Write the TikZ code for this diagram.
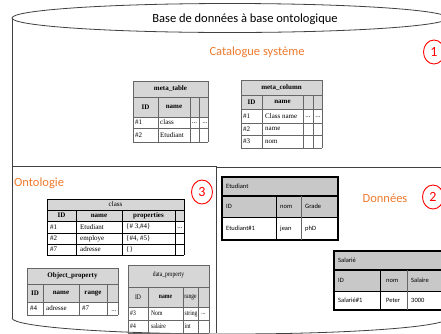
\documentclass[tikz,border=0pt]{standalone}
\usepackage{fontspec}
\usetikzlibrary{shapes.geometric}
\setmainfont{Liberation Serif}
\newfontfamily\calfont{Carlito}
\newfontfamily\condfont[FakeStretch=0.8]{Liberation Serif}
\definecolor{orng}{HTML}{F07B2E}
\definecolor{hg}{HTML}{D6D6D6}
\definecolor{hgb}{HTML}{C8C8C8}
\begin{document}
\begin{tikzpicture}[x=1pt,y=-1pt,
  tl/.style={draw=black!60, line width=0.5pt},
  tk/.style={draw=black, line width=0.6pt},
  tc/.style={font=\fontsize{7}{8}\selectfont, inner sep=0pt},
  tcb/.style={font=\fontsize{7}{8}\selectfont\bfseries, inner sep=0pt},
  tw/.style={tc, anchor=west},
  cc/.style={font=\condfont\fontsize{7}{8}\selectfont, inner sep=0pt},
  cw/.style={cc, anchor=west},
  dc/.style={font=\calfont\fontsize{6.5}{7.5}\selectfont, inner sep=0pt, anchor=west},
  ttl/.style={font=\calfont\fontsize{12.5}{14}\selectfont, text=orng, inner sep=0pt},
  num/.style={draw=red, line width=0.9pt, ellipse, minimum width=21pt, minimum height=24pt, inner sep=0pt, text=red, font=\calfont\fontsize{14}{16}\selectfont},
  cyl/.style={draw=black!75, line width=0.8pt}]
\useasboundingbox (0,0) rectangle (441,333);
\fill[white] (0,0) rectangle (441,333);

% cylinder
\draw[cyl] (12,18) -- (12,318);
\begin{scope}
  \clip (0,318) rectangle (470,345);
  \draw[cyl] (230,318) ellipse[x radius=218, y radius=16];
\end{scope}
\draw[cyl, fill=white] (230,18) ellipse[x radius=218, y radius=14.5];
\node[font=\calfont\fontsize{12.5}{14}\selectfont, inner sep=0pt] (title) at (245,19) {Base de données à base ontologique};

% dividers
\draw[cyl] (12,166) -- (216,166);
\draw[cyl] (216,167) -- (441,167);
\draw[cyl] (216,166) -- (216,333);

% section titles
\node[ttl] (cat) at (257,52) {Catalogue système};
\node[ttl, anchor=west] (onto) at (14,183) {Ontologie};
\node[ttl] (don) at (385,198) {Données};
\node[num] (n1) at (434,52) {1};
\node[num] (n3) at (202,192) {3};
\node[num] (n2) at (433,197) {2};

% meta_table
\fill[hg] (133,81) rectangle (208,117);
\foreach \y in {81,97,117,128,142} \draw[tl] (133,\y) -- (208,\y);
\draw[tl] (133,81) -- (133,142);
\draw[tl] (208,81) -- (208,142);
\foreach \x in {158,190,199} \draw[tl] (\x,97) -- (\x,142);
\node[tcb] (mt) at (170.5,89) {meta\_table};
\node[tcb] (mt1) at (145.5,107) {ID};
\node[tcb] (mt2) at (174,107) {name};
\node[tw] (mt3) at (135,122.5) {\#1};
\node[tw] (mt4) at (160,122.5) {class};
\node[tc] (mt5) at (194.5,123) {...};
\node[tc] (mt6) at (205,123) {...};
\node[tw] (mt7) at (135,135) {\#2};
\node[tw] (mt8) at (160,135) {Etudiant};

% meta_column
\fill[hg] (241,80) rectangle (322,109);
\foreach \y in {80,95,109,123,135,148} \draw[tl] (241,\y) -- (322,\y);
\draw[tl] (241,80) -- (241,148);
\draw[tl] (322,80) -- (322,148);
\foreach \x in {262,303,313} \draw[tl] (\x,95) -- (\x,148);
\node[tcb] (mc) at (281.5,87.5) {meta\_column};
\node[tcb] (mc1) at (251.5,102) {ID};
\node[tcb] (mc2) at (282.5,102) {name};
\node[tw] (mc3) at (243,116) {\#1};
\node[tw] (mc4) at (265,116) {Class name};
\node[tc] (mc5) at (308,117) {...};
\node[tc] (mc6) at (318,117) {...};
\node[tw] (mc7) at (243,129) {\#2};
\node[tw] (mc8) at (265,129) {name};
\node[tw] (mc9) at (243,141.5) {\#3};
\node[tw] (mc10) at (265,141.5) {nom};

% class
\fill[hg] (47,199) rectangle (184,221);
\foreach \y in {199,210,221,233,244,255} \draw[tk] (47,\y) -- (184,\y);
\draw[tk] (47,199) -- (47,255);
\draw[tk] (184,199) -- (184,255);
\foreach \x in {76,122,175} \draw[tk] (\x,210) -- (\x,255);
\node[tc] (cl) at (115.5,204.5) {class};
\node[tcb] (cl1) at (61.5,215.5) {ID};
\node[tcb] (cl2) at (99,215.5) {name};
\node[tcb] (cl3) at (148.5,215.5) {properties};
\node[tw] (cl4) at (50,227) {\#1};
\node[tw] (cl5) at (80,227) {Etudiant};
\node[tw] (cl6) at (126,227) {\{\# 3,\#4\}};
\node[tc] (cl7) at (180,228) {...};
\node[tw] (cl8) at (50,238.5) {\#2};
\node[tw] (cl9) at (80,238.5) {employe};
\node[tw] (cl10) at (126,238.5) {\{\#4, \#5\}};
\node[tw] (cl11) at (50,249.5) {\#7};
\node[tw] (cl12) at (80,249.5) {adresse};
\node[tw] (cl13) at (126,249.5) {\{\}};

% Object_property
\fill[hg] (27,268) rectangle (118,302);
\foreach \y in {268,284,302,315} \draw[tl] (27,\y) -- (118,\y);
\draw[tl] (27,268) -- (27,315);
\draw[tl] (118,268) -- (118,315);
\foreach \x in {43,79,107} \draw[tl] (\x,284) -- (\x,315);
\node[tcb] (op) at (72.5,276) {Object\_property};
\node[tcb] (op1) at (35,293) {ID};
\node[tcb] (op2) at (61,293) {name};
\node[tcb] (op3) at (93,293) {range};
\node[tw] (op4) at (30,308.5) {\#4};
\node[tw] (op5) at (46,308.5) {adresse};
\node[tw] (op6) at (82,308.5) {\#7};
\node[tc] (op7) at (114,311) {...};

% data_property
\fill[hg] (128,265) rectangle (209,307);
\foreach \y in {265,287,307,320,333} \draw[tl] (128,\y) -- (209,\y);
\draw[tl] (128,265) -- (128,333);
\draw[tl] (209,265) -- (209,333);
\foreach \x in {148,183,198} \draw[tl] (\x,287) -- (\x,333);
\node[cc] (dp) at (168.5,275) {data\_property};
\node[cc] (dp1) at (138,297) {ID};
\node[cc, font=\condfont\fontsize{7}{8}\selectfont\bfseries] (dp2) at (165.5,297) {name};
\node[cc] (dp3) at (190.5,297) {range};
\node[cw] (dp4) at (130,313.5) {\#3};
\node[cw] (dp5) at (151,313.5) {Nom};
\node[cw] (dp6) at (184.5,313.5) {string};
\node[cc] (dp7) at (203.5,314.5) {...};
\node[cw] (dp8) at (130,326.5) {\#4};
\node[cw] (dp9) at (151,326.5) {salaire};
\node[cw] (dp10) at (184.5,326.5) {int};

% Etudiant
\fill[hgb] (222,177) rectangle (338,217);
\draw[black, line width=1.1pt] (222,177) rectangle (338,240);
\draw[black, line width=1.8pt] (222,196) -- (338,196);
\draw[black, line width=0.8pt] (222,217) -- (338,217);
\draw[black, line width=0.8pt] (276,196) -- (276,240);
\draw[black!60, line width=0.8pt] (301,196) -- (301,240);
\node[dc] (e0) at (226,186.5) {Etudiant};
\node[dc] (e1) at (226,206.5) {ID};
\node[dc] (e2) at (280,206.5) {nom};
\node[dc] (e3) at (305,206.5) {Grade};
\node[dc] (e4) at (226,228.5) {Etudiant\#1};
\node[dc] (e5) at (280,228.5) {jean};
\node[dc] (e6) at (305,228.5) {phD};

% Salarie
\fill[hgb] (334,251) rectangle (452,291);
\draw[black, line width=1.1pt] (334,251) rectangle (452,310);
\draw[black, line width=1.8pt] (334,270) -- (452,270);
\draw[black, line width=0.8pt] (334,291) -- (452,291);
\draw[black, line width=0.8pt] (380,270) -- (380,310);
\draw[black!60, line width=0.8pt] (407,270) -- (407,310);
\node[dc] (s0) at (338,260.5) {Salarié};
\node[dc] (s1) at (338,280.5) {ID};
\node[dc] (s2) at (386,280.5) {nom};
\node[dc] (s3) at (411,280.5) {Salaire};
\node[dc] (s4) at (338,300.5) {Salarié\#1};
\node[dc] (s5) at (386,300.5) {Peter};
\node[dc] (s6) at (411,300.5) {3000};
\end{tikzpicture}
\end{document}
